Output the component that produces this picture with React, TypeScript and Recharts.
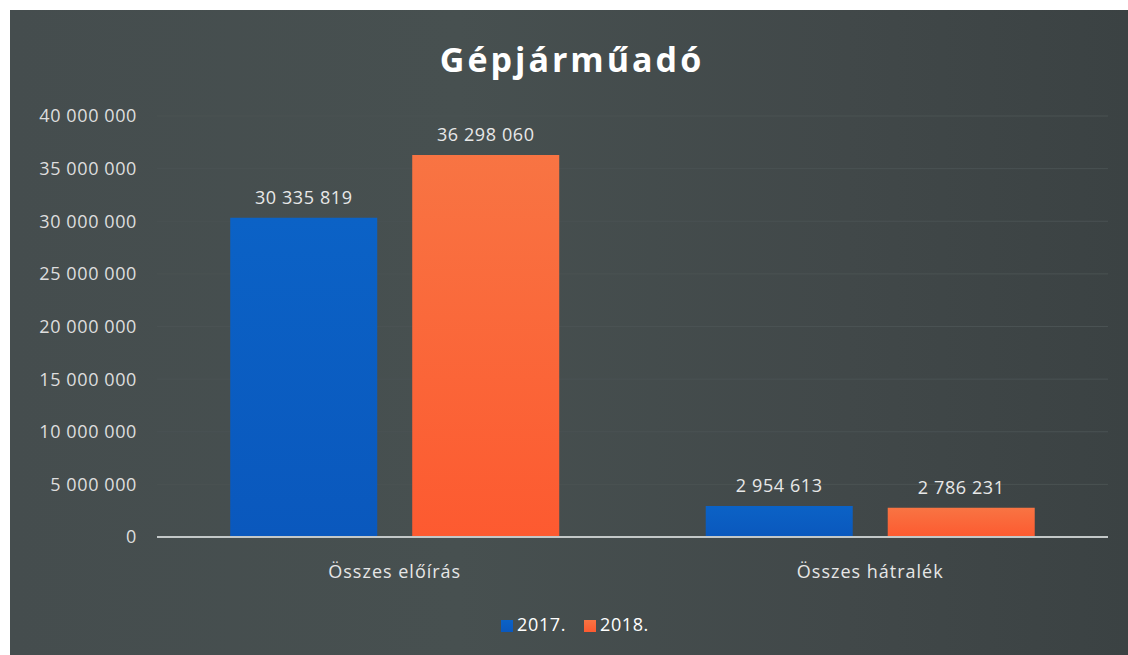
import React from 'react';
import { BarChart, Bar, XAxis, YAxis, CartesianGrid, Legend, LabelList } from 'recharts';

const categories = ['Összes előírás', 'Összes hátralék'];
const values2017 = [30335819, 2954613];
const values2018 = [36298060, 2786231];
const yTicks = [0, 5000000, 10000000, 15000000, 20000000, 25000000, 30000000, 35000000, 40000000];

const data = categories.map((c, i) => ({ name: c, y2017: values2017[i], y2018: values2018[i] }));

const fmt = (v: number) => String(v).replace(/\B(?=(\d{3})+(?!\d))/g, ' ');
const FONT = '"Open Sans", "DejaVu Sans", sans-serif';

export default function App() {
  return (
    <div style={{ position: 'absolute', left: 0, top: 0, width: 1128, height: 655, background: '#fff', overflow: 'hidden' }}>
      <div
        style={{
          position: 'absolute',
          left: 10,
          top: 10,
          width: 1118,
          height: 645,
          background: 'linear-gradient(90deg, #454d4e 0%, #475050 40%, #414849 75%, #3b4243 100%)',
        }}
      />
      <div
        style={{
          position: 'absolute',
          left: 0,
          width: 1144,
          top: 36,
          textAlign: 'center',
          fontFamily: FONT,
          fontWeight: 700,
          fontSize: 34,
          letterSpacing: 3,
          color: '#ffffff',
        }}
      >
        Gépjárműadó
      </div>
      <div style={{ position: 'absolute', left: 0, top: 0 }}>
        <BarChart
          width={1128}
          height={655}
          data={data}
          margin={{ top: 116, right: 20, left: 20, bottom: 48 }}
          barCategoryGap="15.4%"
          barGap={35}
        >
          <defs>
            <linearGradient id="orangeGrad" x1="0" y1="0" x2="0" y2="1">
              <stop offset="0%" stopColor="#f87443" />
              <stop offset="100%" stopColor="#fd5a30" />
            </linearGradient>
            <linearGradient id="blueGrad" x1="0" y1="0" x2="0" y2="1">
              <stop offset="0%" stopColor="#0b62c6" />
              <stop offset="100%" stopColor="#0a58bd" />
            </linearGradient>
          </defs>
          <CartesianGrid vertical={false} stroke="#4a5253" strokeWidth={1} />
          <XAxis
            dataKey="name"
            height={40}
            axisLine={{ stroke: '#c3c8c8', strokeWidth: 2 }}
            tickLine={false}
            tickMargin={22}
            tick={{ fill: '#e6e6e6', fontSize: 18, fontFamily: FONT, letterSpacing: 1 }}
          />
          <YAxis
            width={137}
            domain={[0, 40000000]}
            ticks={yTicks}
            interval={0}
            axisLine={false}
            tickLine={false}
            tickMargin={14}
            tickFormatter={fmt}
            tick={{ fill: '#dedede', fontSize: 18, fontFamily: FONT, letterSpacing: 0.6 }}
          />
          <Legend
            height={30}
            iconType="square"
            iconSize={12}
            wrapperStyle={{ fontFamily: FONT, fontSize: 18, letterSpacing: 0.6, bottom: 13, left: 40, width: 1088 }}
            formatter={(value: string) => <span style={{ color: '#ffffff', marginRight: 8 }}>{value}</span>}
          />
          <Bar dataKey="y2017" name="2017." fill="url(#blueGrad)" isAnimationActive={false} legendType="square">
            <LabelList dataKey="y2017" position="top" offset={14} formatter={fmt} fill="#e8e8e8" fontSize={18} fontFamily={FONT} letterSpacing={0.6} />
          </Bar>
          <Bar dataKey="y2018" name="2018." fill="url(#orangeGrad)" isAnimationActive={false} legendType="square">
            <LabelList dataKey="y2018" position="top" offset={14} formatter={fmt} fill="#e8e8e8" fontSize={18} fontFamily={FONT} letterSpacing={0.6} />
          </Bar>
        </BarChart>
      </div>
    </div>
  );
}
